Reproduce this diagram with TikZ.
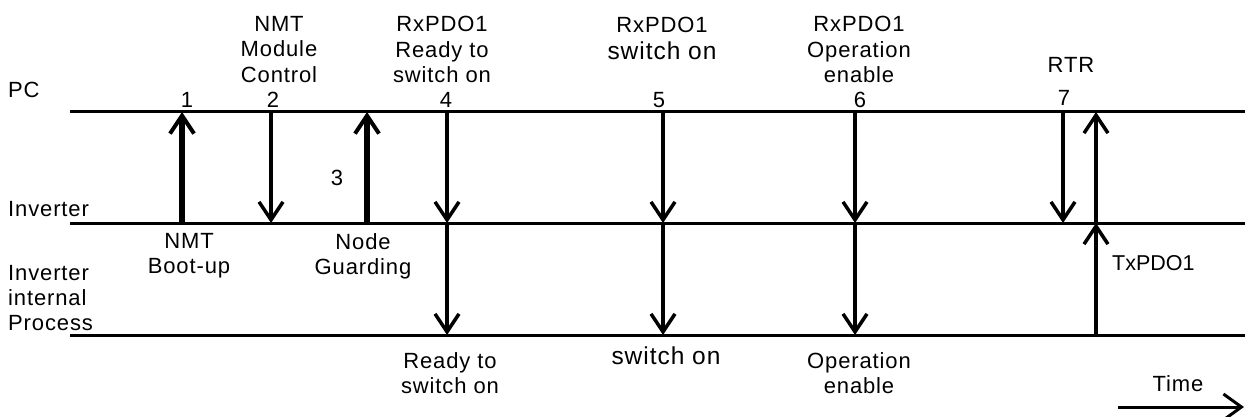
\documentclass[tikz,border=0pt]{standalone}
\usepackage{fontspec}
\setmainfont{Liberation Sans}[LetterSpace=4]
\newfontfamily\plainsans{Liberation Sans}
\usetikzlibrary{arrows.meta}
\begin{document}
\begin{tikzpicture}[x=1pt,y=-1pt,
  lbl/.style={font=\fontsize{22}{25.5}\selectfont, inner sep=0pt, align=center, anchor=north},
  lft/.style={font=\fontsize{22}{25}\selectfont, inner sep=0pt, align=left, anchor=north west},
  lane/.style={line width=3pt},
  msg/.style={line width=3.5pt, -{Straight Barb[length=18pt,width=24pt,line width=3.5pt]}},
  boldmsg/.style={line width=6.5pt, -{Straight Barb[length=18pt,width=24pt,line width=4pt]}},
]
\useasboundingbox (0,0) rectangle (1245,417);
\fill[white] (0,0) rectangle (1245,417);

% lanes
\coordinate (pcL) at (70,112);   \coordinate (pcR) at (1245,112);
\coordinate (invL) at (70,223);  \coordinate (invR) at (1245,223);
\coordinate (prL) at (70,335);   \coordinate (prR) at (1245,335);
\draw[lane] (pcL) -- (pcR);
\draw[lane] (invL) -- (invR);
\draw[lane] (prL) -- (prR);

% lane labels
\node[lft] (lpc) at (8,82) {PC};
\node[lft] (linv) at (8,201) {Inverter};
\node[lft] (lproc) at (8,265) {Inverter\\internal\\Process};

% points on lanes
\foreach \n/\x in {a/182,b/271,c/367,d/447,e/663,f/855,g/1063,h/1096}{
  \coordinate (p\n) at (\x,112);
  \coordinate (i\n) at (\x,223);
  \coordinate (r\n) at (\x,335);
}

% arrows
\draw[boldmsg] (ia) -- (pa);
\draw[msg] (pb) -- (ib);
\draw[boldmsg] (ic) -- (pc);
\draw[msg] (pd) -- (id);
\draw[msg] (id) -- (rd);
\draw[msg] (pe) -- (ie);
\draw[msg] (ie) -- (re);
\draw[msg] (pf) -- (if);
\draw[msg] (if) -- (rf);
\draw[msg] (pg) -- (ig);
\draw[msg] (rh) -- (ih);
\draw[msg] (ih) -- (ph);

% numbers
\node[lbl] (n1) at (187,92) {1};
\node[lbl] (n2) at (273,92) {2};
\node[lbl] (n3) at (337,170) {3};
\node[lbl] (n4) at (446,92) {4};
\node[lbl] (n5) at (659,92) {5};
\node[lbl] (n6) at (860,92) {6};
\node[lbl] (n7) at (1064,90) {7};

% top labels
\node[lbl] (t2) at (279,16) {NMT\\Module\\Control};
\node[lbl] (t4) at (442,16) {RxPDO1\\Ready to\\switch on};
\node[lbl] (t5) at (662,17) {RxPDO1\\[1pt]{\fontsize{24.5}{27}\selectfont switch on}};
\node[lbl] (t6) at (859,16) {RxPDO1\\Operation\\enable};
\node[lbl] (t7) at (1071,57) {RTR};

% labels between PC/Inverter and Inverter/Process
\node[lbl] (b1) at (189,233) {NMT\\Boot-up};
\node[lbl] (b3) at (363,233) {Node\\Guarding};
\node[lbl, anchor=north west, font=\plainsans\fontsize{21.5}{24}\selectfont] (tx) at (1112,255) {TxPDO1};

% bottom labels
\node[lbl] (s4) at (450,352) {Ready to\\switch on};
\node[lbl, font=\fontsize{24.5}{27}\selectfont] (s5) at (666,347) {switch on};
\node[lbl] (s6) at (859,352) {Operation\\enable};

% time arrow
\node[lbl] (time) at (1178,375) {Time};
\coordinate (tA) at (1118,407);
\coordinate (tB) at (1244,407);
\draw[line width=3pt, -{Straight Barb[length=18pt,width=26pt,line width=3pt]}] (tA) -- (tB);
\end{tikzpicture}
\end{document}
